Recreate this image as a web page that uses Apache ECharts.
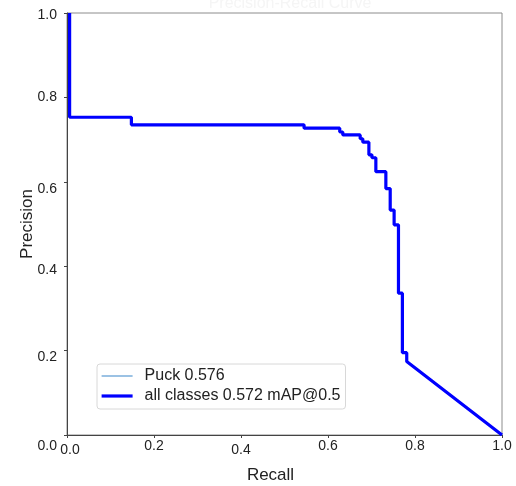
<!DOCTYPE html>
<html>
<head>
<meta charset="utf-8">
<script src="https://cdn.jsdelivr.net/npm/echarts@6/dist/echarts.min.js"></script>
<style>html,body{margin:0;padding:0;background:#fff;}#c{width:516px;height:486px;}</style>
</head>
<body>
<div id="c"></div>
<script>
// ---- data ----
const recall = [0.006, 0.006, 0.148, 0.148, 0.545, 0.545, 0.627, 0.627, 0.634, 0.634, 0.674, 0.674, 0.680, 0.680, 0.694, 0.694, 0.701, 0.701, 0.710, 0.710, 0.733, 0.733, 0.743, 0.743, 0.752, 0.752, 0.762, 0.762, 0.771, 0.771, 0.781, 0.781, 1.0];
const precision = [1.0, 0.753, 0.753, 0.735, 0.735, 0.727, 0.727, 0.718, 0.718, 0.711, 0.711, 0.702, 0.702, 0.694, 0.694, 0.664, 0.664, 0.657, 0.657, 0.624, 0.624, 0.584, 0.584, 0.533, 0.533, 0.498, 0.498, 0.336, 0.336, 0.195, 0.195, 0.174, 0.0];
const seriesNames = ['Puck 0.576', 'all classes 0.572 mAP@0.5'];
const xTicks = [0.0, 0.2, 0.4, 0.6, 0.8, 1.0];
const yTicks = [0.0, 0.2, 0.4, 0.6, 0.8, 1.0];
const titleText = 'Precision-Recall Curve';

// ---- label nudges (style only) ----
const xNudge = {'0.0': [4, 3], '0.2': [0, 0], '0.4': [4, 0], '0.6': [0, 0], '0.8': [0, 0], '1.0': [0, 0]};
const yNudge = {'0.0': 11, '0.2': 7, '0.4': 4, '0.6': 7, '0.8': 0, '1.0': 2};
const lineWidths = [1.5, 3.2];
const lineColors = ['#7aaedb', '#0000ff'];

const pts = recall.map((r, i) => [r, precision[i]]);
const font = '"Liberation Sans", Arial, Helvetica, sans-serif';

const xRich = {}, yRich = {};
Object.keys(xNudge).forEach((k, i) => {
  const [dy, dx] = xNudge[k];
  xRich['x' + i] = {fontSize: 14, fontFamily: font, color: '#222', padding: [dy, 0, 0, dx * 2]};
});
Object.keys(yNudge).forEach((k, i) => {
  yRich['y' + i] = {fontSize: 14, fontFamily: font, color: '#222', padding: [yNudge[k] * 2, 0, 0, 0]};
});

const chart = echarts.init(document.getElementById('c'), null, {renderer: 'canvas'});
chart.setOption({
  animation: false,
  backgroundColor: '#fff',
  title: {
    text: titleText, left: 285, top: -9, textAlign: 'center',
    textStyle: {fontSize: 16, fontWeight: 'normal', color: '#f5f5f5', fontFamily: font}
  },
  grid: {left: 67, right: 14, top: 13, bottom: 51, show: true, borderColor: '#8c8c8c', borderWidth: 1, backgroundColor: '#fff',
         containLabel: false, outerBoundsMode: 'none'},
  xAxis: {
    type: 'value', min: 0, max: 1, interval: 0.2,
    name: 'Recall', nameLocation: 'middle', nameGap: 32, nameMoveOverlap: false,
    nameTextStyle: {fontSize: 17, color: '#222', fontFamily: font, padding: [0, 28, 0, 0]},
    axisLine: {show: true, lineStyle: {color: '#444', width: 1}},
    axisTick: {show: true, length: 3, lineStyle: {color: '#444'}},
    splitLine: {show: false},
    axisLabel: {
      margin: 4, showMinLabel: true, showMaxLabel: true,
      formatter: v => { const s = v.toFixed(1); const i = Object.keys(xNudge).indexOf(s); return '{x' + i + '|' + s + '}'; },
      rich: xRich
    }
  },
  yAxis: {
    type: 'value', min: 0, max: 1, interval: 0.2,
    name: 'Precision', nameLocation: 'middle', nameGap: 31, nameMoveOverlap: false,
    nameTextStyle: {fontSize: 17, color: '#222', fontFamily: font},
    axisLine: {show: true, lineStyle: {color: '#444', width: 1}},
    axisTick: {show: true, length: 3, lineStyle: {color: '#444'}},
    splitLine: {show: false},
    axisLabel: {
      margin: 10, showMinLabel: true, showMaxLabel: true,
      formatter: v => { const s = v.toFixed(1); const i = Object.keys(yNudge).indexOf(s); return '{y' + i + '|' + s + '}'; },
      rich: yRich
    }
  },
  legend: {
    show: true,
    orient: 'vertical', left: 97, top: 364,
    itemWidth: 31, itemHeight: 10, itemGap: 4,
    padding: [4, 5, 5, 3],
    backgroundColor: '#fff', borderColor: '#d8d8d8', borderWidth: 1, borderRadius: 3,
    itemStyle: {opacity: 0},
    textStyle: {fontSize: 16, color: '#222', fontFamily: font, padding: [0, 0, 0, 7]},
    data: seriesNames.map((n, i) => ({name: n, lineStyle: {width: lineWidths[i], color: lineColors[i]}}))
  },
  series: seriesNames.map((n, i) => ({
    name: n, type: 'line', data: pts, showSymbol: false, symbol: 'none',
    lineStyle: {color: lineColors[i], width: lineWidths[i]}, itemStyle: {color: lineColors[i]}, z: 2 + i
  }))
});
</script>
</body>
</html>
